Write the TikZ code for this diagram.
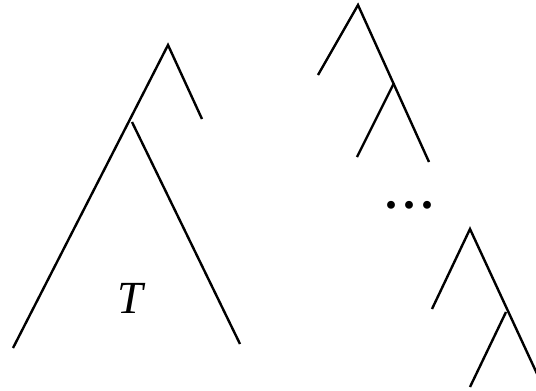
\documentclass[tikz,border=0pt]{standalone}
\usepackage{fontspec}
\setmainfont{Liberation Serif}
\begin{document}
\begin{tikzpicture}[x=1pt,y=-1pt,line width=2.4pt]
    \useasboundingbox (0,0) rectangle (536,391);

    % Left tree with subtree T
    \coordinate (topL) at (168,45);
    \coordinate (endA) at (13,348);
    \coordinate (endB) at (202,119);
    \coordinate (subL) at (132,122);
    \coordinate (endC) at (240,344);
    \draw (endA) -- (topL) -- (endB);
    \draw (subL) -- (endC);
    \node (labT) at (130,298) {\fontsize{46}{46}\selectfont\itshape T};

    % Upper right spine
    \coordinate (topR) at (358,5);
    \coordinate (endD) at (318,75);
    \coordinate (endE) at (429,162);
    \coordinate (brR) at (394,83);
    \coordinate (endF) at (357,157);
    \draw (endD) -- (topR) -- (endE);
    \draw (brR) -- (endF);

    % Dots
    \node (dots) at (409,205) {\fontsize{48}{48}\selectfont\bfseries .\hspace{6pt}.\hspace{6pt}.};

    % Lower right spine
    \coordinate (topS) at (470,229);
    \coordinate (endG) at (432,309);
    \coordinate (endH) at (545,391);
    \coordinate (brS) at (506,312);
    \coordinate (endI) at (470,387);
    \draw (endG) -- (topS) -- (endH);
    \draw (brS) -- (endI);
\end{tikzpicture}
\end{document}
